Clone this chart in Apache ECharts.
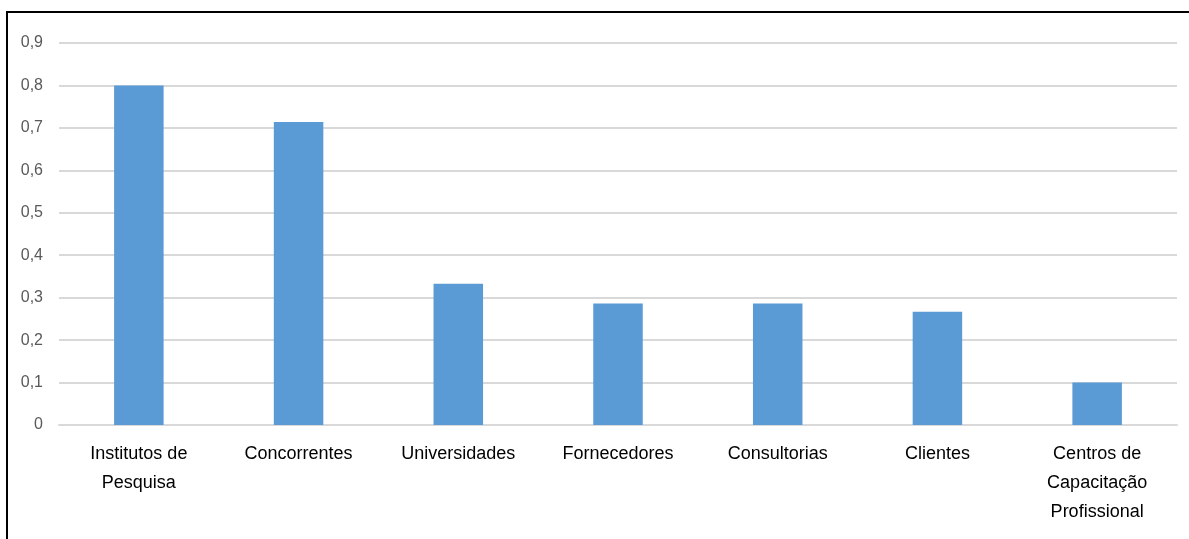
<!DOCTYPE html>
<html>
<head>
<meta charset="utf-8">
<script src="https://cdn.jsdelivr.net/npm/echarts@6/dist/echarts.min.js"></script>
<style>
  html, body { margin: 0; padding: 0; background: #ffffff; }
  #chart { width: 1189px; height: 539px; }
</style>
</head>
<body>
<div id="chart"></div>
<script>
// Categories and their values
const categories = [
  'Institutos de\nPesquisa',
  'Concorrentes',
  'Universidades',
  'Fornecedores',
  'Consultorias',
  'Clientes',
  'Centros de\nCapacitação\nProfissional'
];
const values = [0.8, 0.714, 0.333, 0.286, 0.286, 0.267, 0.1];

// Value axis range and step
const yMin = 0;
const yMax = 0.9;
const yStep = 0.1;

const fontFamily = '"Liberation Sans", Arial, sans-serif';

const chart = echarts.init(document.getElementById('chart'), null, { renderer: 'canvas' });

chart.setOption({
  animation: false,
  backgroundColor: '#ffffff',
  grid: { left: 59, right: 12, top: 43, bottom: 114, containLabel: false },
  xAxis: {
    type: 'category',
    data: categories,
    axisLine: { show: true, lineStyle: { color: '#d9d9d9', width: 2 } },
    axisTick: { show: false },
    axisLabel: {
      color: '#000000',
      fontFamily: fontFamily,
      fontSize: 18,
      lineHeight: 29,
      margin: 15,
      interval: 0
    }
  },
  yAxis: {
    type: 'value',
    min: yMin,
    max: yMax,
    interval: yStep,
    axisLine: { show: false },
    axisTick: { show: false },
    splitLine: { show: true, lineStyle: { color: '#d9d9d9', width: 2 } },
    axisLabel: {
      color: '#595959',
      fontFamily: fontFamily,
      fontSize: 16,
      margin: 16,
      formatter: function (v) {
        return (Math.round(v * 10) / 10).toString().replace('.', ',');
      }
    }
  },
  series: [{
    type: 'bar',
    data: values,
    barWidth: '31%',
    itemStyle: { color: '#5b9bd5' }
  }],
  graphic: [
    { type: 'line', shape: { x1: 7, y1: 12, x2: 1189, y2: 12 }, style: { stroke: '#000000', lineWidth: 2 } },
    { type: 'line', shape: { x1: 7, y1: 11, x2: 7, y2: 539 }, style: { stroke: '#000000', lineWidth: 2 } }
  ]
});
</script>
</body>
</html>
